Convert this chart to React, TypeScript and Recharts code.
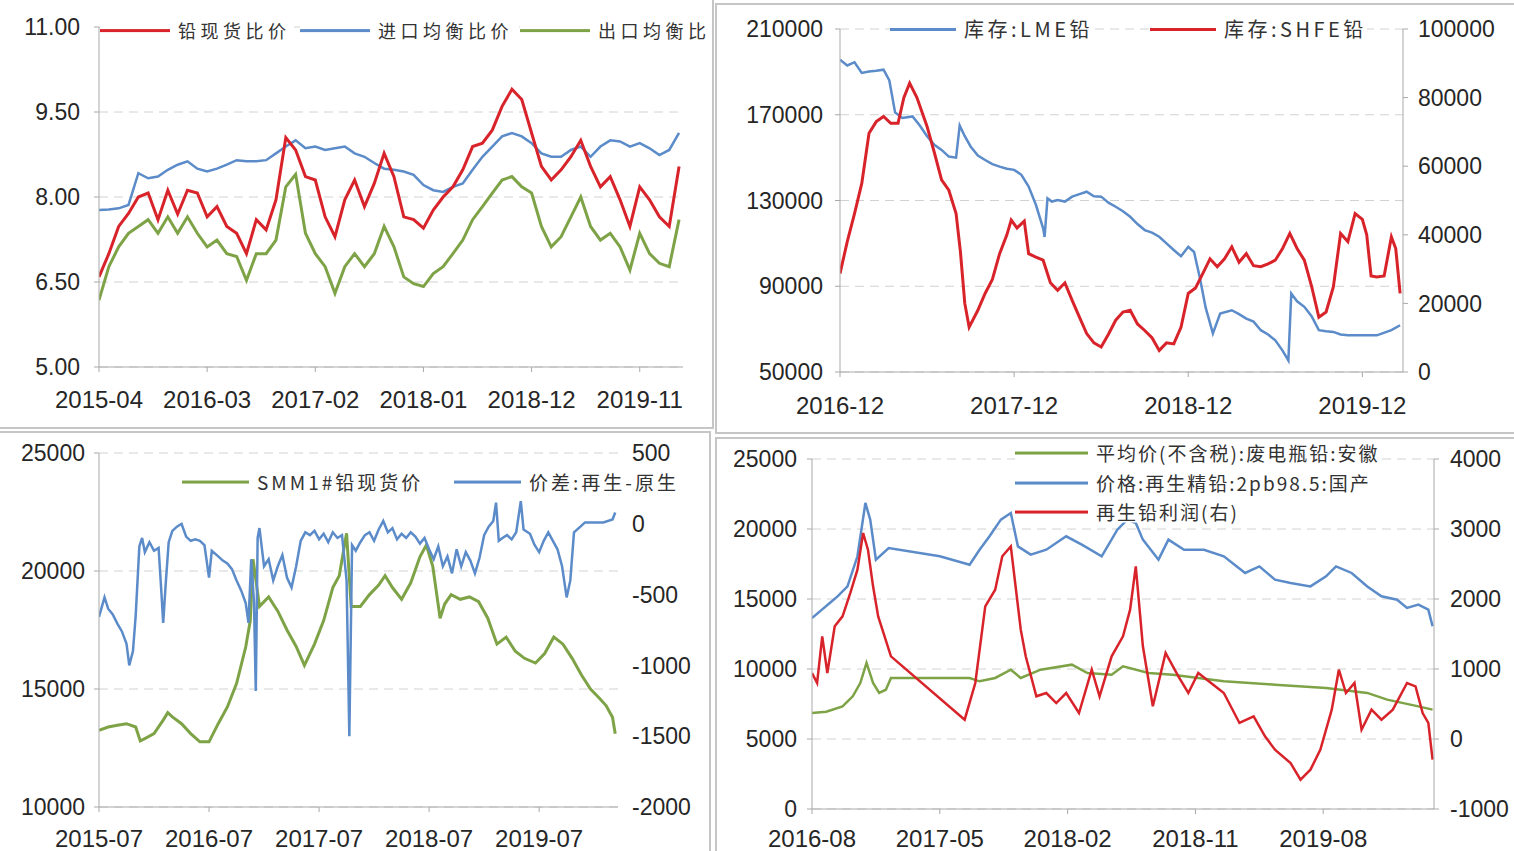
import React from 'react'
import { LineChart, Line, XAxis, YAxis, CartesianGrid } from 'recharts'

// ---------- panel 1: 铅比价 (monthly from 2015-04) ----------
const p1Start = '2015-04'
const p1XLabels = ['2015-04', '2016-03', '2017-02', '2018-01', '2018-12', '2019-11']
const p1YTicks = [5, 6.5, 8, 9.5, 11]
const p1Spot = [6.59, 7.0, 7.48, 7.71, 8.0, 8.07, 7.6, 8.12, 7.7, 8.12, 8.07, 7.65, 7.83, 7.48, 7.36, 7.0, 7.6, 7.42, 7.95, 9.05, 8.83, 8.36, 8.3, 7.65, 7.3, 7.95, 8.3, 7.83, 8.24, 8.77, 8.36, 7.65, 7.6, 7.45, 7.77, 8.0, 8.18, 8.48, 8.89, 8.95, 9.18, 9.6, 9.9, 9.72, 9.13, 8.54, 8.3, 8.48, 8.71, 9.0, 8.54, 8.18, 8.36, 7.95, 7.48, 8.18, 7.95, 7.65, 7.48, 8.54]
const p1Import = [7.77, 7.78, 7.8, 7.86, 8.42, 8.33, 8.36, 8.48, 8.57, 8.63, 8.5, 8.45, 8.5, 8.57, 8.65, 8.63, 8.63, 8.65, 8.77, 8.89, 9.0, 8.86, 8.89, 8.83, 8.86, 8.89, 8.77, 8.71, 8.6, 8.5, 8.48, 8.45, 8.39, 8.21, 8.12, 8.09, 8.18, 8.24, 8.48, 8.71, 8.89, 9.07, 9.13, 9.07, 8.95, 8.77, 8.71, 8.71, 8.83, 8.89, 8.71, 8.89, 9.0, 8.98, 8.89, 8.95, 8.86, 8.74, 8.83, 9.13]
const p1Export = [6.18, 6.77, 7.12, 7.36, 7.48, 7.6, 7.36, 7.65, 7.36, 7.65, 7.36, 7.12, 7.24, 7.0, 6.95, 6.53, 7.0, 7.0, 7.24, 8.18, 8.4, 7.36, 7.0, 6.77, 6.3, 6.77, 7.0, 6.77, 7.0, 7.48, 7.12, 6.59, 6.47, 6.42, 6.65, 6.77, 7.0, 7.24, 7.6, 7.83, 8.07, 8.3, 8.36, 8.18, 8.07, 7.48, 7.12, 7.3, 7.65, 8.0, 7.48, 7.24, 7.36, 7.12, 6.71, 7.36, 7.0, 6.83, 6.77, 7.6]

// ---------- panel 2: 库存 (months from 2016-12) ----------
const p2Start = '2016-12'
const p2XLabels = ['2016-12', '2017-12', '2018-12', '2019-12']
const p2LeftTicks = [50000, 90000, 130000, 170000, 210000]
const p2RightTicks = [0, 20000, 40000, 60000, 80000, 100000]
const p2LmeT = [0, 0.5, 1, 1.5, 2, 2.5, 3, 3.4, 3.8, 4.3, 5, 5.5, 6, 6.5, 7, 7.5, 8, 8.25, 8.6, 9, 9.5, 10, 10.5, 11, 11.5, 12, 12.5, 13, 13.5, 14, 14.1, 14.3, 14.6, 15, 15.5, 16, 16.5, 17, 17.5, 18, 18.5, 19, 19.5, 20, 20.5, 21, 21.5, 22, 22.5, 23, 23.5, 24, 24.4, 24.8, 25.2, 25.7, 26.2, 27, 27.5, 28, 28.5, 29, 29.5, 30, 30.5, 30.9, 31.1, 31.5, 32, 32.5, 33, 33.5, 34, 34.5, 35, 36, 37, 38, 38.6]
const p2LmeV = [195700, 193000, 194500, 189500, 190200, 190500, 191000, 186000, 171000, 168500, 169200, 165000, 160000, 156000, 153600, 150500, 150000, 165000, 160000, 155200, 151000, 148900, 147000, 145800, 144800, 144300, 142000, 136500, 128000, 117000, 113000, 131000, 129500, 130200, 129500, 131800, 133000, 134100, 132000, 131800, 129000, 127100, 125000, 122400, 119000, 116200, 115000, 113100, 110000, 106900, 104000, 108400, 106000, 94000, 80000, 68000, 77300, 78800, 77000, 74900, 73500, 69500, 67500, 64800, 60000, 55400, 86600, 83000, 80400, 76000, 69500, 69000, 68700, 67500, 67100, 67100, 67100, 69500, 71800]
const p2ShfeT = [0, 0.5, 1, 1.5, 2, 2.5, 3, 3.5, 4, 4.4, 4.8, 5.3, 6, 6.5, 7, 7.5, 8, 8.3, 8.6, 8.9, 9.5, 10, 10.5, 11, 11.5, 11.8, 12.2, 12.7, 13, 13.5, 14, 14.5, 15, 15.5, 16, 16.5, 17, 17.5, 18, 18.5, 19, 19.5, 20, 20.5, 21, 21.5, 22, 22.5, 23, 23.5, 24, 24.5, 25, 25.5, 26, 26.5, 27, 27.5, 28, 28.5, 29, 29.5, 30, 30.5, 31, 31.5, 32, 32.5, 33, 33.5, 34, 34.5, 35, 35.5, 36, 36.3, 36.6, 37, 37.5, 38, 38.3, 38.6]
const p2ShfeV = [28700, 38000, 46200, 55000, 69600, 73000, 74500, 72500, 72500, 80000, 84200, 80000, 71600, 64000, 56000, 53000, 46200, 35000, 20000, 13100, 18000, 22900, 27000, 34500, 40000, 44300, 42000, 44000, 34500, 33500, 32600, 26000, 23800, 26000, 20900, 16000, 11200, 8500, 7300, 11000, 15100, 17500, 18000, 14000, 12100, 10000, 6300, 8500, 8200, 13000, 22900, 24500, 28700, 33000, 30700, 33000, 36500, 32000, 34500, 31000, 30700, 31500, 32600, 36000, 40400, 36000, 32600, 25000, 16000, 17500, 24800, 40400, 38000, 46200, 44500, 40000, 28000, 27700, 28000, 39400, 36000, 22900]

// ---------- panel 3: SMM1#铅 / 再生-原生价差 (months from 2015-07) ----------
const p3Start = '2015-07'
const p3XLabels = ['2015-07', '2016-07', '2017-07', '2018-07', '2019-07']
const p3LeftTicks = [10000, 15000, 20000, 25000]
const p3RightTicks = [-2000, -1500, -1000, -500, 0, 500]
const p3SpotT = [0, 1, 2, 3, 4, 4.5, 5, 6, 7, 7.5, 8, 9, 10, 11, 12, 13, 14, 15, 16, 16.5, 16.8, 17.5, 18.5, 19.5, 20.5, 21.5, 22.4, 23.5, 24.5, 25.5, 26.2, 27, 27.5, 28.5, 29.5, 30.5, 31.2, 32, 33, 34, 35, 35.7, 36.4, 37.2, 37.7, 38.4, 39.4, 40.4, 41.4, 42.4, 43.4, 44.4, 45.4, 46.4, 47.6, 48.6, 49.6, 50.6, 51.6, 52.6, 53.6, 54.6, 55.3, 56, 56.3]
const p3SpotV = [13250, 13390, 13460, 13530, 13390, 12800, 12900, 13110, 13680, 14000, 13820, 13530, 13110, 12760, 12760, 13530, 14240, 15230, 16780, 17900, 20500, 18500, 18900, 18300, 17500, 16800, 16000, 16900, 17900, 19300, 19800, 21600, 18500, 18500, 19000, 19400, 19800, 19300, 18800, 19500, 20600, 21100, 20200, 18000, 18600, 19000, 18800, 18900, 18700, 18000, 16900, 17200, 16600, 16300, 16100, 16500, 17200, 16900, 16300, 15600, 15000, 14600, 14300, 13800, 13100]
const p3SpreadT = [0, 0.6, 1, 1.5, 2, 2.5, 3, 3.3, 3.7, 4, 4.4, 4.7, 5, 5.5, 6, 6.5, 6.8, 7, 7.3, 7.6, 8, 8.5, 9, 9.5, 10, 10.5, 11, 11.5, 12, 12.3, 13, 13.5, 14, 14.5, 15, 15.5, 16, 16.3, 16.6, 16.9, 17.1, 17.3, 17.5, 18, 18.5, 19, 19.5, 20, 20.5, 21, 21.5, 22, 22.5, 23, 23.5, 24, 24.5, 25, 25.5, 26, 26.5, 27, 27.3, 27.6, 28, 28.5, 29, 29.5, 30, 30.5, 31, 31.5, 32, 32.5, 33, 33.5, 34, 34.5, 35, 35.5, 36, 36.5, 37, 37.5, 38, 38.5, 39, 39.5, 40, 40.5, 41, 41.5, 42, 42.5, 43, 43.3, 43.6, 44, 44.5, 45, 45.5, 46, 46.3, 47, 47.5, 48, 48.5, 49, 49.5, 50, 50.5, 51, 51.4, 51.8, 52.5, 53, 54, 55, 56, 56.3]
const p3SpreadV = [-658, -520, -600, -640, -705, -760, -847, -1000, -900, -650, -160, -100, -200, -130, -190, -170, -480, -700, -400, -130, -50, -20, 0, -90, -120, -110, -120, -150, -380, -190, -230, -260, -280, -320, -400, -470, -560, -700, -250, -550, -1180, -100, -30, -300, -250, -400, -300, -220, -380, -450, -300, -120, -60, -80, -50, -110, -70, -130, -60, -100, -80, -400, -1500, -150, -190, -130, -80, -60, -120, -40, 20, -60, -30, -110, -70, -100, -60, -90, -140, -100, -180, -250, -160, -300, -230, -350, -180, -300, -200, -260, -350, -240, -80, -20, 20, 150, -120, -100, -80, -110, -60, 160, -40, -70, -150, -200, -120, -60, -120, -180, -300, -520, -400, -60, -20, 10, 10, 10, 30, 80]

// ---------- panel 4: 再生铅 (months from 2016-08) ----------
const p4Start = '2016-08'
const p4XLabels = ['2016-08', '2017-05', '2018-02', '2018-11', '2019-08']
const p4LeftTicks = [0, 5000, 10000, 15000, 20000, 25000]
const p4RightTicks = [-1000, 0, 1000, 2000, 3000, 4000]
const p4ScrapT = [0, 1, 2.15, 2.87, 3.4, 3.84, 4.3, 4.73, 5.2, 5.56, 7.5, 11.1, 11.8, 12.9, 14, 14.7, 16.1, 18.3, 19.4, 21.1, 21.9, 23.7, 25.4, 29, 32.6, 36.2, 39.1, 40.5, 42.7, 43.7]
const p4ScrapV = [6860, 6950, 7330, 8050, 9000, 10430, 9000, 8290, 8520, 9360, 9360, 9360, 9120, 9360, 9950, 9360, 9950, 10310, 9710, 9590, 10190, 9710, 9590, 9120, 8880, 8640, 8290, 7810, 7330, 7100]
const p4RefinedT = [0, 0.7, 1.25, 1.8, 2.5, 3.2, 3.76, 4.1, 4.5, 5.4, 9, 11.1, 11.8, 12.5, 13.3, 14, 14.5, 15.4, 16.5, 17.9, 19, 20.4, 21.5, 22.2, 22.8, 23.3, 24.4, 25.1, 26.2, 27.6, 29, 30.5, 31.5, 32.6, 33.7, 35.1, 36.2, 36.9, 38, 39.1, 40.1, 41.2, 41.9, 42.7, 43.4, 43.7]
const p4RefinedV = [13640, 14240, 14710, 15190, 15900, 18050, 21860, 20670, 17810, 18640, 18050, 17450, 18520, 19480, 20670, 21140, 18760, 18170, 18520, 19480, 18880, 18050, 19950, 20670, 20430, 19240, 17810, 19240, 18520, 18520, 18050, 16860, 17330, 16380, 16140, 15900, 16620, 17330, 16860, 15900, 15190, 14950, 14360, 14600, 14240, 13050]
const p4ProfitT = [0, 0.36, 0.72, 1.08, 1.6, 2.15, 2.7, 3.2, 3.6, 3.94, 4.3, 4.66, 5.56, 10.75, 11.5, 12.2, 12.9, 13.4, 14, 14.7, 15.05, 15.8, 16.5, 17.2, 17.9, 18.8, 19.7, 20.25, 21.1, 21.9, 22.4, 22.8, 23.3, 24, 24.9, 25.8, 26.5, 27.2, 28.1, 29, 30.1, 31.1, 31.9, 32.6, 33.7, 34.4, 35.1, 35.8, 36.6, 37.1, 37.6, 38.2, 38.7, 39.4, 40.1, 40.9, 41.9, 42.5, 43, 43.4, 43.7]
const p4ProfitV = [943, 800, 1467, 943, 1610, 1752, 2086, 2419, 2943, 2705, 2181, 1752, 1181, 276, 800, 1895, 2133, 2610, 2752, 1562, 1181, 610, 657, 514, 657, 371, 990, 610, 1181, 1467, 1848, 2467, 1324, 467, 1229, 895, 657, 943, 800, 657, 229, 324, 38, -152, -343, -581, -438, -152, 419, 990, 657, 800, 133, 419, 276, 419, 800, 752, 371, 229, -295]

const RED = '#d8232a'
const BLUE = '#5b8bc9'
const GREEN = '#7ea347'
const AXIS = '#a9a9a9'
const GRID = '#d2d2d2'
const BORDER = '#c6c6c6'
const FONT_NUM = '"Liberation Sans", Arial, sans-serif'
const FONT_CJK = '"Noto Sans CJK SC", "Noto Sans", sans-serif'

const xTick = { fill: '#262626', fontSize: 24, fontFamily: FONT_NUM }
const yTick = { fill: '#262626', fontSize: 23, fontFamily: FONT_NUM }

const monthIndex = (s: string) => {
  const [y, m] = s.split('-').map(Number)
  return y * 12 + (m - 1)
}
const tickPositions = (start: string, labels: string[]) =>
  labels.map((l) => monthIndex(l) - monthIndex(start))
const labelFor = (start: string, labels: string[]) => {
  const pos = tickPositions(start, labels)
  return (t: number) => labels[pos.indexOf(t)] ?? ''
}
const zip = (t: number[], v: number[]) => t.map((x, i) => ({ t: x, v: v[i] }))
const monthly = (v: number[]) => v.map((y, i) => ({ t: i, v: y }))

interface LegendItem {
  label: string
  color: string
  left: number
  top: number
}

const Legends = ({
  items,
  lineLength,
  fontSize,
  spacing,
}: {
  items: LegendItem[]
  lineLength: number
  fontSize: number
  spacing: number
}) => (
  <>
    {items.map((it) => (
      <div
        key={it.label}
        style={{
          position: 'absolute',
          left: it.left,
          top: it.top,
          transform: 'translateY(-50%)',
          display: 'flex',
          alignItems: 'center',
          background: '#fff',
          whiteSpace: 'nowrap',
        }}
      >
        <div style={{ width: lineLength, height: 3, background: it.color, marginRight: 8 }} />
        <span
          style={{
            fontFamily: FONT_CJK,
            fontSize,
            letterSpacing: spacing,
            color: '#333',
            lineHeight: 1.1,
          }}
        >
          {it.label}
        </span>
      </div>
    ))}
  </>
)

const abs = (left: number, top: number): React.CSSProperties => ({ position: 'absolute', left, top })

const Panel1 = () => (
  <div style={abs(0, 0)}>
    <LineChart width={713} height={428} margin={{ top: 27, right: 30, bottom: 21, left: 0 }}>
      <CartesianGrid vertical={false} stroke={GRID} strokeDasharray="9 6" />
      <XAxis
        type="number"
        dataKey="t"
        domain={[0, 59.4]}
        ticks={tickPositions(p1Start, p1XLabels)}
        tickFormatter={labelFor(p1Start, p1XLabels)}
        interval={0}
        height={40}
        tickSize={5}
        tickMargin={19}
        stroke={AXIS}
        tick={xTick}
        allowDataOverflow
      />
      <YAxis
        domain={[5, 11]}
        ticks={p1YTicks}
        tickFormatter={(v: number) => v.toFixed(2)}
        interval={0}
        width={99}
        tickSize={5}
        tickMargin={14}
        stroke={AXIS}
        tick={yTick}
      />
      <Line data={monthly(p1Import)} dataKey="v" dot={false} stroke={BLUE} strokeWidth={2.5} isAnimationActive={false} />
      <Line data={monthly(p1Export)} dataKey="v" dot={false} stroke={GREEN} strokeWidth={3} isAnimationActive={false} />
      <Line data={monthly(p1Spot)} dataKey="v" dot={false} stroke={RED} strokeWidth={3} isAnimationActive={false} />
    </LineChart>
  </div>
)

const Panel2 = () => (
  <div style={abs(715, 3)}>
    <LineChart width={799} height={430} margin={{ top: 26, right: 11, bottom: 16, left: 0 }}>
      <CartesianGrid vertical={false} stroke={GRID} strokeDasharray="9 6" />
      <XAxis
        type="number"
        dataKey="t"
        domain={[0, 38.8]}
        ticks={tickPositions(p2Start, p2XLabels)}
        tickFormatter={labelFor(p2Start, p2XLabels)}
        interval={0}
        height={45}
        tickSize={5}
        tickMargin={20}
        stroke={AXIS}
        tick={xTick}
        allowDataOverflow
      />
      <YAxis
        domain={[50000, 210000]}
        ticks={p2LeftTicks}
        interval={0}
        width={125}
        tickSize={5}
        tickMargin={12}
        stroke={AXIS}
        tick={yTick}
      />
      <YAxis
        yAxisId="right"
        orientation="right"
        domain={[0, 100000]}
        ticks={p2RightTicks}
        interval={0}
        width={100}
        tickSize={5}
        tickMargin={10}
        stroke={AXIS}
        tick={yTick}
      />
      <Line data={zip(p2LmeT, p2LmeV)} dataKey="v" dot={false} stroke={BLUE} strokeWidth={2.5} isAnimationActive={false} />
      <Line data={zip(p2ShfeT, p2ShfeV)} yAxisId="right" dataKey="v" dot={false} stroke={RED} strokeWidth={3} isAnimationActive={false} />
    </LineChart>
  </div>
)

const Panel3 = () => (
  <div style={abs(0, 431)}>
    <LineChart width={710} height={420} margin={{ top: 22, right: 0, bottom: 0, left: 0 }}>
      <CartesianGrid vertical={false} stroke={GRID} strokeDasharray="9 6" />
      <XAxis
        type="number"
        dataKey="t"
        domain={[0, 56.6]}
        ticks={tickPositions(p3Start, p3XLabels)}
        tickFormatter={labelFor(p3Start, p3XLabels)}
        interval={0}
        height={44}
        tickSize={5}
        tickMargin={18}
        stroke={AXIS}
        tick={xTick}
        allowDataOverflow
      />
      <YAxis
        domain={[10000, 25000]}
        ticks={p3LeftTicks}
        interval={0}
        width={99}
        tickSize={5}
        tickMargin={9}
        stroke={AXIS}
        tick={yTick}
      />
      <YAxis
        yAxisId="right"
        orientation="right"
        domain={[-2000, 500]}
        ticks={p3RightTicks}
        interval={0}
        width={92}
        tickSize={5}
        tickMargin={9}
        axisLine={false}
        tickLine={false}
        tick={yTick}
      />
      <Line data={zip(p3SpotT, p3SpotV)} dataKey="v" dot={false} stroke={GREEN} strokeWidth={3} isAnimationActive={false} />
      <Line data={zip(p3SpreadT, p3SpreadV)} yAxisId="right" dataKey="v" dot={false} stroke={BLUE} strokeWidth={2.5} isAnimationActive={false} />
    </LineChart>
  </div>
)

const Panel4 = () => (
  <div style={abs(715, 438)}>
    <LineChart width={799} height={413} margin={{ top: 21, right: 0, bottom: 0, left: 0 }}>
      <CartesianGrid vertical={false} stroke={GRID} strokeDasharray="9 6" />
      <XAxis
        type="number"
        dataKey="t"
        domain={[0, 43.8]}
        ticks={tickPositions(p4Start, p4XLabels)}
        tickFormatter={labelFor(p4Start, p4XLabels)}
        interval={0}
        height={42}
        tickSize={5}
        tickMargin={16}
        stroke={AXIS}
        tick={xTick}
        allowDataOverflow
      />
      <YAxis
        domain={[0, 25000]}
        ticks={p4LeftTicks}
        interval={0}
        width={97}
        tickSize={5}
        tickMargin={10}
        stroke={AXIS}
        tick={yTick}
      />
      <YAxis
        yAxisId="right"
        orientation="right"
        domain={[-1000, 4000]}
        ticks={p4RightTicks}
        interval={0}
        width={80}
        tickSize={5}
        tickMargin={11}
        stroke={AXIS}
        tick={yTick}
      />
      <Line data={zip(p4ScrapT, p4ScrapV)} dataKey="v" dot={false} stroke={GREEN} strokeWidth={2.5} isAnimationActive={false} />
      <Line data={zip(p4RefinedT, p4RefinedV)} dataKey="v" dot={false} stroke={BLUE} strokeWidth={2.5} isAnimationActive={false} />
      <Line data={zip(p4ProfitT, p4ProfitV)} yAxisId="right" dataKey="v" dot={false} stroke={RED} strokeWidth={2.5} isAnimationActive={false} />
    </LineChart>
  </div>
)

const box = (left: number, top: number, width: number, height: number): React.CSSProperties => ({
  position: 'absolute',
  left,
  top,
  width,
  height,
  background: BORDER,
})

export default function App() {
  return (
    <div
      style={{
        position: 'absolute',
        left: 0,
        top: 0,
        width: 1514,
        height: 851,
        background: '#fff',
        overflow: 'hidden',
      }}
    >
      {/* panel frames */}
      <div style={box(712, 0, 2, 429)} />
      <div style={box(0, 427, 714, 2)} />
      <div style={box(715, 3, 799, 2)} />
      <div style={box(715, 3, 2, 431)} />
      <div style={box(715, 432, 799, 2)} />
      <div style={box(0, 431, 711, 2)} />
      <div style={box(709, 431, 2, 420)} />
      <div style={box(715, 437, 799, 2)} />
      <div style={box(715, 437, 2, 414)} />

      <Panel1 />
      <Panel2 />
      <Panel3 />
      <Panel4 />

      <Legends
        lineLength={70}
        fontSize={18}
        spacing={4.5}
        items={[
          { label: '铅现货比价', color: RED, left: 100, top: 31 },
          { label: '进口均衡比价', color: BLUE, left: 300, top: 31 },
          { label: '出口均衡比', color: GREEN, left: 520, top: 31 },
        ]}
      />
      <Legends
        lineLength={66}
        fontSize={20}
        spacing={3.5}
        items={[
          { label: '库存:LME铅', color: BLUE, left: 890, top: 29 },
          { label: '库存:SHFE铅', color: RED, left: 1150, top: 29 },
        ]}
      />
      <Legends
        lineLength={67}
        fontSize={19}
        spacing={3}
        items={[
          { label: 'SMM1#铅现货价', color: GREEN, left: 182, top: 482 },
          { label: '价差:再生-原生', color: BLUE, left: 454, top: 482 },
        ]}
      />
      <Legends
        lineLength={73}
        fontSize={19}
        spacing={2}
        items={[
          { label: '平均价(不含税):废电瓶铅:安徽', color: GREEN, left: 1015, top: 453 },
          { label: '价格:再生精铅:2pb98.5:国产', color: BLUE, left: 1015, top: 483 },
          { label: '再生铅利润(右)', color: RED, left: 1015, top: 512 },
        ]}
      />
    </div>
  )
}
